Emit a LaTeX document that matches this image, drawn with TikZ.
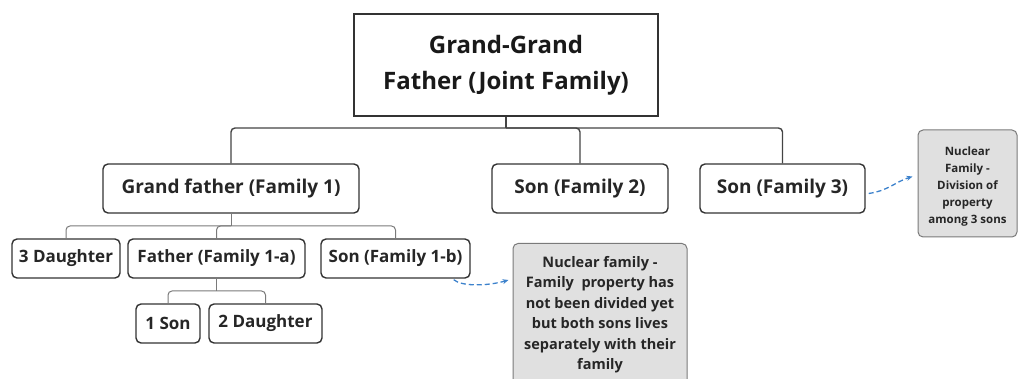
\documentclass[tikz,border=0pt]{standalone}
\usepackage{fontspec}
\setmainfont{Open Sans}
\usetikzlibrary{arrows.meta}
\definecolor{edge}{HTML}{333333}
\definecolor{wire}{HTML}{444444}
\definecolor{thinwire}{HTML}{7A7A7A}
\definecolor{notefill}{HTML}{E0E0E0}
\definecolor{linkblue}{HTML}{3D82CC}
\tikzset{
  member/.style={draw=edge, line width=1.4pt, rounded corners=5pt, fill=white,
    inner sep=0pt, font=\bfseries\fontsize{19}{22}\selectfont, text=black!85},
  small/.style={member, font=\bfseries\fontsize{17}{20}\selectfont},
  notebox/.style={draw=thinwire, line width=1pt, rounded corners=5pt, fill=notefill, inner sep=0pt},
  notetext/.style={align=center, inner sep=0pt, text=black!85},
  bus/.style={draw=wire, line width=1.4pt, rounded corners=4pt},
  subbus/.style={draw=thinwire, line width=1pt, rounded corners=4pt},
  link/.style={draw=linkblue, line width=1.3pt, dash pattern=on 5pt off 3pt,
    -{Stealth[length=6pt,width=5pt]}},
}
\begin{document}
\begin{tikzpicture}[x=1pt, y=-1pt]
\useasboundingbox (0,0) rectangle (1020,379);

% head of the joint family
\node[draw=edge, line width=1.5pt, fill=white, minimum width=304, minimum height=102,
  align=center, font=\bfseries\fontsize{24}{36}\selectfont, text=black!90]
  (top) at (506,65) {Grand-Grand\\Father (Joint Family)};

% second generation
\node[member, minimum width=256, minimum height=49] (gf) at (231,188.5) {Grand father (Family 1)};
\node[member, minimum width=176, minimum height=49] (s2) at (580,188.5) {Son (Family 2)};
\node[member, minimum width=165, minimum height=49] (s3) at (782.5,188.5) {Son (Family 3)};

% third generation
\node[small, minimum width=108, minimum height=39] (d3) at (66,258.5) {3 Daughter};
\node[small, minimum width=177, minimum height=39] (f1a) at (216.5,258.5) {Father (Family 1-a)};
\node[small, minimum width=149, minimum height=39] (s1b) at (395.5,258.5) {Son (Family 1-b)};

% fourth generation
\node[small, minimum width=64, minimum height=39] (son1) at (168,323.5) {1 Son};
\node[small, minimum width=113, minimum height=39] (d2) at (265.5,323.5) {2 Daughter};

% notes
\node[notebox, minimum width=99, minimum height=107] (n3) at (967.5,183.5) {};
\node[notetext, font=\bfseries\fontsize{11.5}{17}\selectfont] (n3t) at ([yshift=-3pt]n3.center)
  {Nuclear\\Family -\\Division of\\property\\among 3 sons};
\node[notebox, minimum width=174, minimum height=170, anchor=north] (n1) at (600,243) {};
\node[notetext, anchor=north, font=\bfseries\fontsize{14.5}{20.5}\selectfont] (n1t) at (600,256)
  {Nuclear family -\\Family\ \ property has\\not been divided yet\\but both sons lives\\separately with their\\family};

% connectors from the head
\coordinate (hub) at (top.south |- 0,128);
\draw[bus] (gf.north) |- (s3.north |- hub) -- (s3.north);
\draw[bus] (top.south) -- (hub);
\draw[bus] (hub) -| (s2.north);

% connectors from the grand father
\coordinate (hub2) at (gf.south |- 0,226);
\draw[subbus] (gf.south) -- (hub2);
\draw[subbus] (d3.north) |- (s1b.north |- hub2) -- (s1b.north);
\draw[subbus] (hub2) -| (f1a.north);

% connectors from the father
\coordinate (hub3) at (f1a.south |- 0,291);
\draw[subbus] (f1a.south) -- (hub3);
\draw[subbus] (son1.north) |- (d2.north |- hub3) -- (d2.north);

% links to the notes
\draw[link] ([xshift=-17pt,yshift=-1pt]s1b.south east) .. controls +(8,7) and (488,286) .. ([xshift=-4pt,yshift=-37pt]n1.north west);
\draw[link] ([xshift=3pt,yshift=-5pt]s3.east) .. controls +(20,-3) and (895,182) .. ([xshift=-5pt,yshift=7pt]n3.west);
\end{tikzpicture}
\end{document}
